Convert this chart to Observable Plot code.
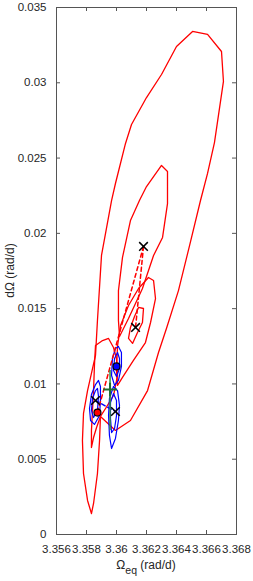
<!DOCTYPE html>
<html>
<head>
<meta charset="utf-8">
<script src="https://cdn.jsdelivr.net/npm/d3@7"></script>
<script src="https://cdn.jsdelivr.net/npm/@observablehq/plot@0.6"></script>
<style>
  html, body { margin: 0; padding: 0; background: #fff; }
</style>
</head>
<body>
<div id="chart"></div>
<script>
// ---- data (Ω_eq in rad/d, dΩ in rad/d) ----
const xTicks = [3.356, 3.358, 3.36, 3.362, 3.364, 3.366, 3.368];
const yTicks = [0, 0.005, 0.01, 0.015, 0.02, 0.025, 0.03, 0.035];

const redContourOuter = [
  [3.36507,0.03341],[3.36607,0.03321],[3.3670,0.03208],[3.36713,0.03009],[3.36653,0.02603],
  [3.36607,0.02398],[3.3656,0.02218],[3.36487,0.01919],[3.36413,0.0162],[3.36333,0.01368],
  [3.3628,0.01209],[3.36207,0.00956],[3.36093,0.00757],[3.35993,0.00691],[3.35893,0.00784],
  [3.35887,0.00624],[3.35873,0.00405],[3.35847,0.00206],[3.35833,0.00139],[3.35807,0.00226],
  [3.3578,0.00405],[3.35773,0.00624],[3.3578,0.00804],[3.35807,0.00956],[3.3586,0.01189],
  [3.35873,0.01421],[3.3590,0.01853],[3.35967,0.02218],[3.35993,0.02331],[3.3606,0.02597],
  [3.361,0.02723],[3.362,0.02902],[3.363,0.03055],[3.364,0.03241]
];
const redContourUpper = [
  [3.363,0.02451],[3.3634,0.02411],[3.3634,0.02198],[3.36307,0.01973],[3.36247,0.01853],
  [3.36173,0.01634],[3.3608,0.01435],[3.3602,0.01315],[3.36013,0.01421],[3.36013,0.0162],
  [3.3604,0.0184],[3.36093,0.02085],[3.36153,0.02218],[3.362,0.02311]
];
const redContourLower = [
  [3.3586,0.01255],[3.35907,0.01288],[3.35947,0.01302],[3.3598,0.01242],[3.36,0.01169],
  [3.36007,0.01056],[3.3598,0.00923],[3.35927,0.00837],[3.35893,0.00784],[3.35867,0.00711],
  [3.35847,0.00644],[3.35833,0.00578],[3.35833,0.00691],[3.3584,0.00824],[3.35847,0.00956],
  [3.35853,0.01122]
];
const redContourMid = [
  [3.36213,0.01707],[3.36247,0.01687],[3.3626,0.01567],[3.36227,0.01408],[3.36193,0.01275],
  [3.36113,0.01156],[3.3604,0.01043],[3.36007,0.0099],[3.36,0.01089],[3.36007,0.01255],
  [3.36027,0.01388],[3.3608,0.01521],[3.36147,0.01634]
];
const redContourInner = [
  [3.36147,0.01508],[3.3618,0.01501],[3.36173,0.01408],[3.3614,0.01342],[3.36107,0.01269],
  [3.3608,0.01302],[3.36093,0.01375],[3.3612,0.01448]
];

const blueContourTopOuter = [
  [3.36013,0.01249],[3.36033,0.01209],[3.36033,0.01116],[3.36013,0.01023],[3.35987,0.0099],
  [3.35967,0.01056],[3.35973,0.01169],[3.35993,0.01235]
];
const blueContourTopInner = [
  [3.36007,0.01209],[3.3602,0.01169],[3.3602,0.01102],[3.36,0.01049],[3.3598,0.01089],[3.35987,0.01169]
];
const blueContourLeftOuter = [
  [3.3588,0.01023],[3.35893,0.00983],[3.35893,0.0089],[3.35887,0.0079],[3.35853,0.00731],
  [3.35827,0.00757],[3.3582,0.00837],[3.35833,0.0093],[3.3586,0.00996]
];
const blueContourLeftInner = [
  [3.35873,0.0097],[3.3588,0.00917],[3.35873,0.00824],[3.35847,0.00777],[3.35833,0.00824],
  [3.3584,0.00903],[3.3586,0.00956]
];
const blueContourRightOuter = [
  [3.3598,0.00983],[3.36007,0.00956],[3.3602,0.00857],[3.36013,0.00757],[3.35993,0.00638],
  [3.35967,0.00571],[3.35953,0.00658],[3.35947,0.0079],[3.35953,0.00903]
];
const blueContourRightInner = [
  [3.3598,0.00936],[3.36,0.0089],[3.36,0.0079],[3.35987,0.00704],[3.35967,0.00677],
  [3.3596,0.0077],[3.3596,0.00877]
];

const crossPoints = [[3.3618,0.01913],[3.36127,0.01375],[3.3586,0.0089],[3.35993,0.00817]];
const redCircle = [[3.35873,0.0081]];
const blueCircle = [[3.36,0.01116]];
const greenPlus = [[3.35957,0.00963]];
const greenErrorBar = [[3.35957,0.00691,0.01089]];

const redDashedA = [[3.3618,0.01913],[3.36127,0.01375]];
const redDashedB = [[3.3618,0.01913],[3.35873,0.0081]];
const blueDashed = [[3.3586,0.0089],[3.35993,0.00817]];

// ---- layout ----
const W = 253, H = 581, mL = 56, mR = 17, mT = 7, mB = 47;
const innerW = W - mL - mR, innerH = H - mT - mB, tickLen = 4;
const fmt = d => String(+d.toFixed(3));
const px = d => d[0], py = d => d[1];
const axisColor = "#555";
const font = "'Liberation Sans', Arial, sans-serif";

const red = "#ff0000", blue = "#0000ff";
const contour = (data, stroke, sw) =>
  Plot.line(data, {x: px, y: py, stroke, strokeWidth: sw, curve: "linear-closed", strokeLinejoin: "round"});

const chart = Plot.plot({
  width: W, height: H,
  marginLeft: mL, marginRight: mR, marginTop: mT, marginBottom: mB,
  style: {fontFamily: font, fontSize: "11.5px", color: "#262626", background: "#fff"},
  x: {domain: [3.356, 3.368]},
  y: {domain: [0, 0.035]},
  marks: [
    Plot.axisX(xTicks, {tickSize: 0, tickPadding: 10, tickFormat: fmt, label: null, fontSize: 11.5}),
    Plot.axisY(yTicks, {tickSize: 0, tickPadding: 10, tickFormat: fmt, label: null, fontSize: 11.5}),
    Plot.tickX(xTicks, {x: d => d, insetTop: innerH - tickLen, stroke: axisColor}),
    Plot.tickX(xTicks, {x: d => d, insetBottom: innerH - tickLen, stroke: axisColor}),
    Plot.tickY(yTicks, {y: d => d, insetRight: innerW - tickLen, stroke: axisColor}),
    Plot.tickY(yTicks, {y: d => d, insetLeft: innerW - tickLen, stroke: axisColor}),
    Plot.frame({stroke: axisColor}),
    contour(redContourOuter, red, 1.3),
    contour(redContourUpper, red, 1.3),
    contour(redContourLower, red, 1.3),
    contour(redContourMid, red, 1.3),
    contour(redContourInner, red, 1.3),
    contour(blueContourTopOuter, blue, 1.2),
    contour(blueContourTopInner, blue, 1.2),
    contour(blueContourLeftOuter, blue, 1.2),
    contour(blueContourLeftInner, blue, 1.2),
    contour(blueContourRightOuter, blue, 1.2),
    contour(blueContourRightInner, blue, 1.2),
    Plot.line(redDashedA, {x: px, y: py, stroke: red, strokeWidth: 1.5, strokeDasharray: "4,3"}),
    Plot.line(redDashedB, {x: px, y: py, stroke: red, strokeWidth: 1.5, strokeDasharray: "4,3"}),
    Plot.line(blueDashed, {x: px, y: py, stroke: blue, strokeWidth: 1.5, strokeDasharray: "4,3"}),
    Plot.ruleX(greenErrorBar, {x: d => d[0], y1: d => d[1], y2: d => d[2], stroke: "#2e8b3e", strokeWidth: 1.5}),
    Plot.dot(greenPlus, {x: px, y: py, symbol: "plus", r: 4.5, stroke: "#1f6b2e", strokeWidth: 2}),
    Plot.dot(redCircle, {x: px, y: py, r: 3.5, fill: red, stroke: "#000", strokeWidth: 1.2}),
    Plot.dot(blueCircle, {x: px, y: py, r: 3.5, fill: blue, stroke: "#000", strokeWidth: 1.2}),
    Plot.dot(crossPoints, {x: px, y: py, symbol: "times", r: 4, stroke: "#000", strokeWidth: 1.5})
  ]
});

// axis titles (with subscript)
const svg = d3.select(chart);
const xl = svg.append("text")
  .attr("x", mL + innerW / 2).attr("y", 569)
  .attr("text-anchor", "middle")
  .attr("font-family", font)
  .attr("font-size", 12).attr("fill", "#262626");
xl.append("tspan").text("Ω");
xl.append("tspan").attr("dy", 5).attr("font-size", 10.5).text("eq");
xl.append("tspan").attr("dy", -5).text(" (rad/d)");

svg.append("text")
  .attr("transform", `translate(14,${mT + innerH / 2}) rotate(-90)`)
  .attr("text-anchor", "middle")
  .attr("font-family", font)
  .attr("font-size", 12).attr("fill", "#262626")
  .text("dΩ (rad/d)");

document.getElementById("chart").appendChild(chart);
</script>
</body>
</html>
